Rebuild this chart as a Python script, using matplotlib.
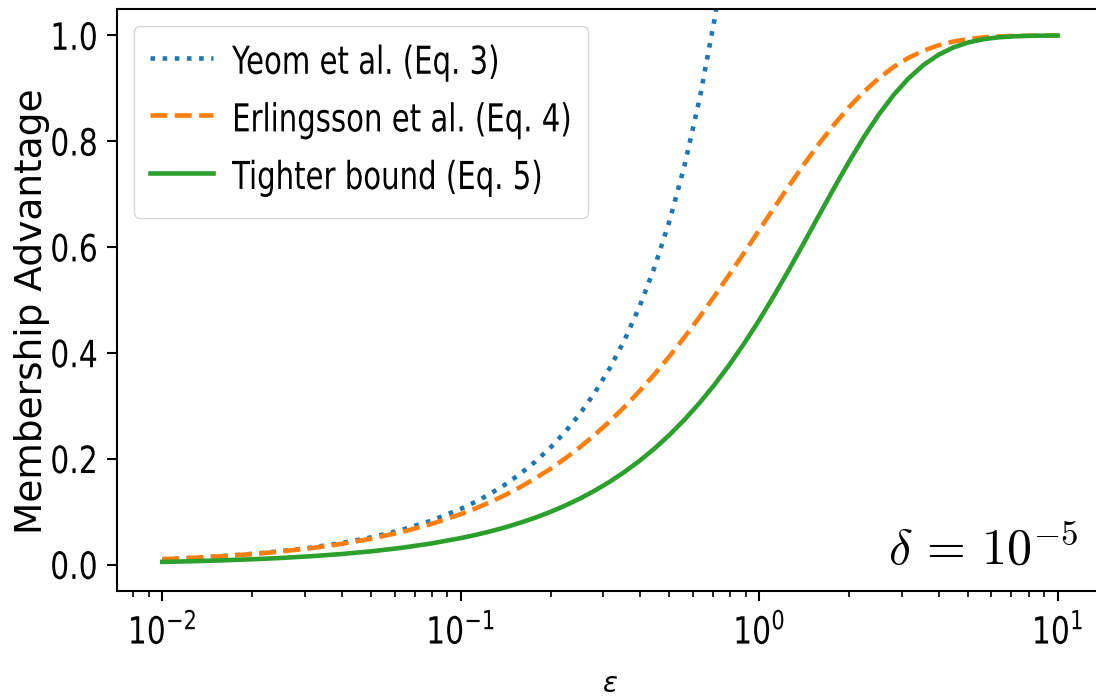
"""Membership advantage bounds vs. epsilon (delta = 1e-5)."""

import matplotlib

matplotlib.use("Agg")
from matplotlib import pyplot as plt
from matplotlib.patheffects import AbstractPathEffect
from matplotlib.transforms import Affine2D

# values, epsilon on a log grid
eps = [0.01, 0.0126, 0.0158, 0.02, 0.0251, 0.0316, 0.0398, 0.0501, 0.0631, 0.0794,
       0.1, 0.1122, 0.1259, 0.1413, 0.1585, 0.1778, 0.1995, 0.2239, 0.2512, 0.2818,
       0.3162, 0.3548, 0.3981, 0.4467, 0.5012, 0.5623, 0.631, 0.7079, 0.7943, 0.8913,
       1.0, 1.122, 1.259, 1.413, 1.585, 1.778, 1.995, 2.239, 2.512, 2.818,
       3.162, 3.548, 3.981, 4.467, 5.012, 5.623, 6.31, 7.079, 7.943, 8.913, 10.0]

# Yeom et al. leaves the top of the axes just after eps ~ 0.7
eps_yeom = eps[:29]
yeom = [0.0101, 0.0127, 0.0159, 0.0202, 0.0254, 0.0321, 0.0406, 0.0514, 0.0651, 0.0826,
        0.1052, 0.1187, 0.1342, 0.1518, 0.1718, 0.1946, 0.2208, 0.2509, 0.2855, 0.3256,
        0.3719, 0.4259, 0.4890, 0.5630, 0.6507, 0.7547, 0.8795, 1.0298, 1.2129]

erlingsson = [0.0100, 0.0125, 0.0157, 0.0198, 0.0248, 0.0311, 0.0390, 0.0489, 0.0612, 0.0763,
              0.0952, 0.1061, 0.1183, 0.1318, 0.1466, 0.1629, 0.1809, 0.2006, 0.2221, 0.2456,
              0.2711, 0.2987, 0.3284, 0.3602, 0.3942, 0.4301, 0.4679, 0.5073, 0.5481, 0.5899,
              0.6321, 0.6744, 0.7161, 0.7566, 0.7951, 0.8310, 0.8640, 0.8934, 0.9189, 0.9403,
              0.9577, 0.9712, 0.9813, 0.9885, 0.9933, 0.9964, 0.9982, 0.9992, 0.9996, 0.9999, 1.0]

tighter = [0.0050, 0.0063, 0.0079, 0.0100, 0.0125, 0.0158, 0.0199, 0.0250, 0.0315, 0.0397,
           0.0500, 0.0560, 0.0629, 0.0705, 0.0791, 0.0887, 0.0994, 0.1115, 0.1249, 0.1400,
           0.1568, 0.1756, 0.1965, 0.2197, 0.2455, 0.2740, 0.3054, 0.3399, 0.3775, 0.4183,
           0.4621, 0.5087, 0.5577, 0.6085, 0.6599, 0.7109, 0.7605, 0.8074, 0.8500, 0.8873,
           0.9188, 0.9440, 0.9633, 0.9773, 0.9868, 0.9928, 0.9964, 0.9983, 0.9993, 0.9997, 0.9999]

labels = ["Yeom et al. (Eq. 3)", "Erlingsson et al. (Eq. 4)", "Tighter bound (Eq. 5)"]
y_ticks = [0.0, 0.2, 0.4, 0.6, 0.8, 1.0]


class Stretch(AbstractPathEffect):
    """Stretch text glyphs vertically in place, to mimic a condensed face."""

    def __init__(self, sy=1.0, anchor="base"):
        super().__init__()
        self.sy, self.anchor = sy, anchor

    def draw_path(self, renderer, gc, tpath, affine, rgbFace=None):
        ext = tpath.get_extents()
        y0 = 0.0 if self.anchor == "base" else (ext.y0 + ext.y1) / 2
        tall = Affine2D().translate(0, -y0).scale(1.0, self.sy).translate(0, y0)
        renderer.draw_path(gc, tpath, tall + affine, rgbFace)


def main() -> None:
    fig = plt.figure(figsize=(10.96, 7.0), dpi=100)
    ax = fig.add_axes([0.1072, 0.1557, 0.8987, 0.8314])

    ax.plot(eps_yeom, yeom, ":", color="C0", lw=3.3, label=labels[0])
    ax.plot(eps, erlingsson, "--", color="C1", lw=3.3, label=labels[1])
    ax.plot(eps, tighter, "-", color="C2", lw=3.3, label=labels[2])

    ax.set_xscale("log")
    ax.set_xlim(10 ** -2.15, 10 ** 1.15)
    ax.set_ylim(-0.05, 1.05)
    ax.set_yticks(y_ticks)

    for side in ax.spines.values():
        side.set_linewidth(1.5)
    ax.tick_params(which="major", length=7, width=1.5, labelsize=21.5)
    ax.tick_params(which="minor", length=4, width=1.2)
    ax.tick_params(axis="x", which="major", pad=9.5)
    ax.tick_params(axis="y", which="major", pad=7)

    ax.set_ylabel("Membership Advantage", fontsize=27)
    ax.yaxis.set_label_coords(-0.069, 0.48)
    ax.set_xlabel(r"$\varepsilon$", math_fontfamily="dejavusans", fontsize=20)
    ax.xaxis.set_label_coords(0.5, -0.136)

    ax.text(0.976, 0.045, r"$\delta\,=\,10^{-5}$", transform=ax.transAxes,
            ha="right", va="baseline", fontsize=36, math_fontfamily="cm")

    leg = ax.legend(loc="upper left", fontsize=21, borderaxespad=0.58, borderpad=0.55,
                    handlelength=2.15, handleheight=2.0, handletextpad=0.65,
                    labelspacing=0.43)
    for txt in leg.get_texts():
        txt.set_path_effects([Stretch(sy=1.32, anchor="base")])

    # tick labels exist after a first draw; make them tall and narrow like the reference
    fig.canvas.draw()
    for lab in ax.get_xticklabels(which="both") + ax.get_yticklabels():
        lab.set_path_effects([Stretch(sy=1.256, anchor="center")])

    fig.savefig("out.png", dpi=100)


if __name__ == "__main__":
    main()
